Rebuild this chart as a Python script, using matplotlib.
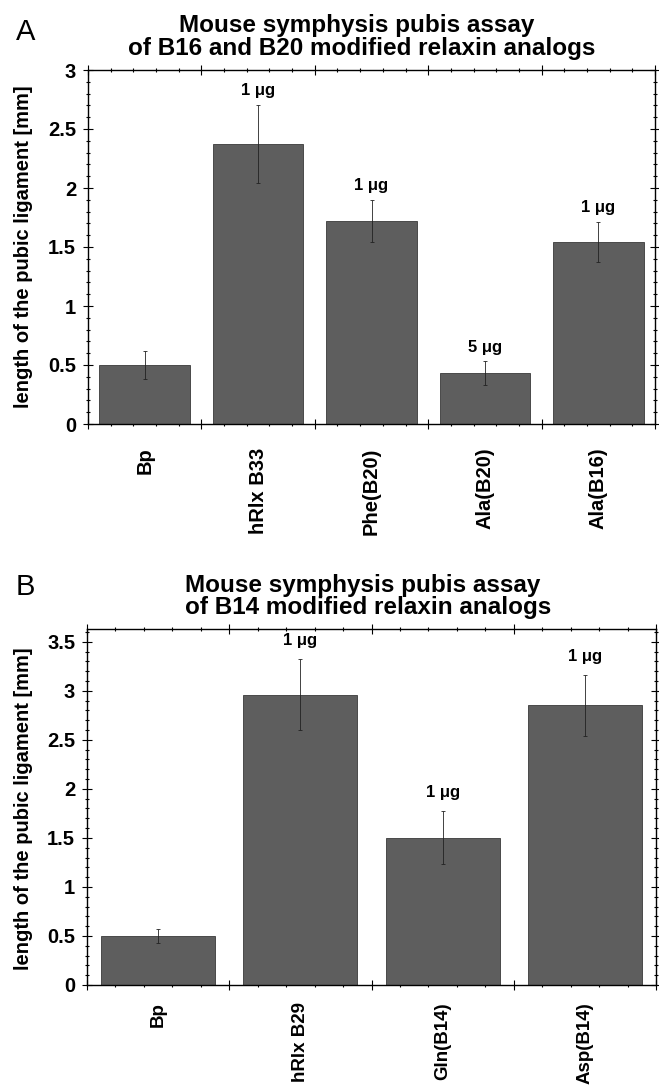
import numpy as np
import matplotlib.pyplot as plt
from matplotlib.ticker import MultipleLocator

plt.rcParams['font.family'] = ['Liberation Sans', 'DejaVu Sans']
plt.rcParams['font.weight'] = 'bold'

# panel A: B16 and B20 analogs
names_a = ['Bp', 'hRlx B33', 'Phe(B20)', 'Ala(B20)', 'Ala(B16)']
vals_a = [0.50, 2.37, 1.72, 0.43, 1.54]
errs_a = [0.12, 0.33, 0.18, 0.10, 0.17]
dose_a = ['', '1 μg', '1 μg', '5 μg', '1 μg']

# panel B: B14 analogs
names_b = ['Bp', 'hRlx B29', 'Gln(B14)', 'Asp(B14)']
vals_b = [0.50, 2.96, 1.50, 2.85]
errs_b = [0.07, 0.36, 0.27, 0.31]
dose_b = ['', '1 μg', '1 μg', '1 μg']

W, H = 659, 1087
fig = plt.figure(figsize=(W / 100, H / 100), dpi=100)

bar_col = '#5e5e5e'


def panel(rect, names, vals, errs, dose, ymax, lab_off, name_off, name_size):
    ax = fig.add_axes(rect)
    x = np.arange(len(names))
    ax.bar(x, vals, width=0.8, color=bar_col, edgecolor='#3a3a3a', linewidth=0.6,
           zorder=2)
    ax.errorbar(x, vals, yerr=errs, fmt='none', ecolor='#222222', elinewidth=0.6,
                capsize=1.5, capthick=0.6, zorder=3)
    for xi, v, e, d in zip(x, vals, errs, dose):
        if d:
            ax.annotate(d, (xi, v + e), xytext=(0, lab_off), textcoords='offset points',
                        ha='center', va='bottom', fontsize=12, fontweight='bold')
    ax.set_xlim(-0.5, len(names) - 0.5)
    ax.set_ylim(0, ymax)
    ax.yaxis.set_major_locator(MultipleLocator(0.5))
    ax.yaxis.set_minor_locator(MultipleLocator(0.1))
    ax.set_yticklabels([('%g' % t) for t in ax.get_yticks()])
    ax.set_xticks(np.arange(len(names) + 1) - 0.5)
    ax.set_xticks(np.arange(-0.5, len(names) - 0.5 + 1e-6, 0.2), minor=True)
    ax.set_xticklabels([])
    # category names under each bar
    for xi, n in zip(x, names):
        ax.annotate(n, (xi, 0), xytext=(0, -name_off), textcoords='offset points',
                    rotation=90, ha='center', va='top', fontsize=name_size,
                    fontweight='bold', annotation_clip=False)
    ax.tick_params(which='both', top=True, right=True, direction='inout',
                   width=0.8, labelsize=14.5)
    ax.tick_params(which='major', length=7, pad=5)
    ax.tick_params(which='minor', length=3.5)
    for s in ax.spines.values():
        s.set_linewidth(1.0)
    return ax


ax_a = panel([88 / W, 1 - 424 / H, 567 / W, 354 / H], names_a, vals_a, errs_a,
             dose_a, 3.0, 5, 17, 14.5)
ax_b = panel([87 / W, 1 - 985 / H, 569 / W, 356 / H], names_b, vals_b, errs_b,
             dose_b, 3.63, 8, 12.5, 13.5)

ylab = 'length of the pubic ligament [mm]'
fig.text(24 / W, 1 - 247 / H, ylab, rotation=90, ha='center', va='center',
         fontsize=14.5, fontweight='bold')
fig.text(24 / W, 1 - 809 / H, ylab, rotation=90, ha='center', va='center',
         fontsize=14.5, fontweight='bold')

# titles
fig.text(357 / W, 1 - 32 / H, 'Mouse symphysis pubis assay', ha='center',
         va='baseline', fontsize=17.5, fontweight='bold')
fig.text(362 / W, 1 - 55 / H, 'of B16 and B20 modified relaxin analogs', ha='center',
         va='baseline', fontsize=17.5, fontweight='bold')
fig.text(363 / W, 1 - 592 / H, 'Mouse symphysis pubis assay', ha='center',
         va='baseline', fontsize=17.5, fontweight='bold')
fig.text(368 / W, 1 - 614 / H, 'of B14 modified relaxin analogs', ha='center',
         va='baseline', fontsize=17.5, fontweight='bold')

fig.text(16 / W, 1 - 40 / H, 'A', ha='left', va='baseline', fontsize=21,
         fontweight='normal')
fig.text(16 / W, 1 - 595 / H, 'B', ha='left', va='baseline', fontsize=21,
         fontweight='normal')

fig.savefig('out.png', dpi=100)
